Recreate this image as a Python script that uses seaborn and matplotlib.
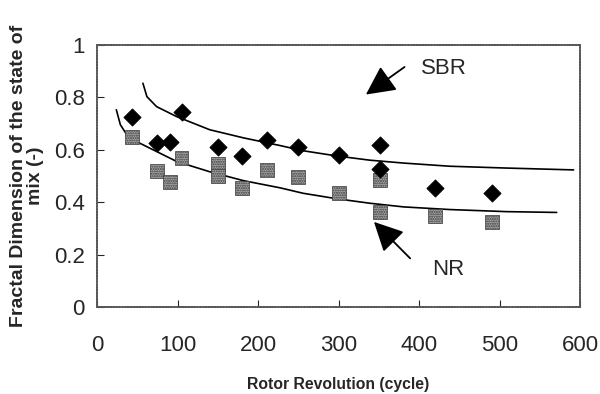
import matplotlib
matplotlib.use("Agg")
import matplotlib.pyplot as plt
import seaborn as sns
import pandas as pd

# Datos
sbr_x = [44, 75, 91, 105, 150, 180, 211, 250, 301, 351, 351, 420, 491]
sbr_y = [0.726, 0.627, 0.630, 0.745, 0.610, 0.576, 0.637, 0.612, 0.578, 0.617, 0.526, 0.454, 0.434]

nr_x = [44, 75, 91, 105, 150, 150, 180, 211, 250, 301, 351, 351, 420, 491]
nr_y = [0.650, 0.518, 0.476, 0.570, 0.545, 0.500, 0.454, 0.523, 0.495, 0.436, 0.485, 0.364, 0.348, 0.323]

# Curvas de ajuste (puntos leidos a lo largo de la linea)
sbr_fit_x = [57, 62, 74, 99, 140, 182, 227, 256, 298, 339, 381, 438, 509, 592]
sbr_fit_y = [0.853, 0.802, 0.764, 0.726, 0.676, 0.645, 0.616, 0.596, 0.576, 0.560, 0.549, 0.537, 0.530, 0.523]

nr_fit_x = [24, 29, 37, 53, 99, 140, 182, 227, 256, 298, 339, 381, 438, 509, 571]
nr_fit_y = [0.752, 0.695, 0.657, 0.625, 0.555, 0.516, 0.482, 0.455, 0.434, 0.413, 0.396, 0.382, 0.372, 0.364, 0.361]

x_ticks = [0, 100, 200, 300, 400, 500, 600]
y_ticks = [0, 0.2, 0.4, 0.6, 0.8, 1]
y_tick_labels = ['0', '0.2', '0.4', '0.6', '0.8', '1']

sns.set_style("white")
plt.rcParams['font.family'] = ['Liberation Sans', 'DejaVu Sans']

fig = plt.figure(figsize=(6, 3.94), dpi=100)
ax = fig.add_axes([0.1617, 0.2203, 0.805, 0.6663])

sbr = pd.DataFrame({'x': sbr_x, 'y': sbr_y})
nr = pd.DataFrame({'x': nr_x, 'y': nr_y})

sns.lineplot(x=sbr_fit_x, y=sbr_fit_y, sort=False, color='black', linewidth=1.2, ax=ax)
sns.lineplot(x=nr_fit_x, y=nr_fit_y, sort=False, color='black', linewidth=1.2, ax=ax)

sns.scatterplot(data=nr, x='x', y='y', marker='s', s=100, color='#a8a8a8',
                edgecolor='#3a3a3a', linewidth=0.5, hatch='.......', ax=ax, zorder=3)
sns.scatterplot(data=sbr, x='x', y='y', marker='D', s=75, color='black',
                edgecolor='black', ax=ax, zorder=4)

ax.set_xlim(0, 600)
ax.set_ylim(0, 1)
ax.set_xticks(x_ticks)
ax.set_yticks(y_ticks)
ax.set_yticklabels(y_tick_labels)
ax.tick_params(axis='x', direction='in', length=5, width=0.8, pad=20, labelsize=16)
ax.tick_params(axis='y', direction='in', length=5, width=0.8, pad=9, labelsize=16)
ax.tick_params(left=True, bottom=True)

for sp in ax.spines.values():
    sp.set_color('#555555')
    sp.set_linewidth(1.3)
    sp.set_linestyle((0, (1, 0.6)))

ax.set_xlabel('Rotor Revolution (cycle)', fontsize=11.3, fontweight='bold')
ax.xaxis.set_label_coords(0.5, -0.265)
ax.set_ylabel('Fractal Dimension of the state of\nmix (-)', fontsize=14, fontweight='bold',
              linespacing=1.0)
ax.yaxis.set_label_coords(-0.11, 0.5)

arrow = dict(arrowstyle='-|>,head_length=0.9,head_width=0.45', color='black',
             linewidth=1.3, mutation_scale=20, shrinkA=0, shrinkB=0)
ax.annotate('', xy=(334, 0.81), xytext=(382, 0.915), arrowprops=arrow)
ax.annotate('', xy=(344, 0.325), xytext=(389, 0.186), arrowprops=arrow)
ax.text(403, 0.911, 'SBR', fontsize=16, va='center', ha='left')
ax.text(416, 0.142, 'NR', fontsize=16, va='center', ha='left')

fig.savefig('out.png', dpi=100)
